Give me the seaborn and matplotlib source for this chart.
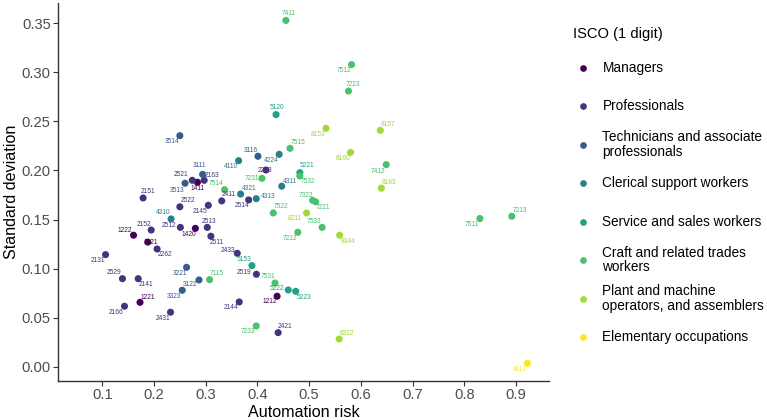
import matplotlib
matplotlib.use("Agg")
import matplotlib.pyplot as plt
import numpy as np
import pandas as pd
import seaborn as sns
from matplotlib.lines import Line2D

# ---- data -------------------------------------------------------------
codes = ["1411", "1420", "1222", "1321", "1221", "1212",
         "2521", "2163", "2151", "2522", "2145", "2512", "2513", "2152", "2511",
         "2262", "2131", "2529", "2141", "2166", "2431", "2263", "2411", "2514",
         "2433", "2519", "2144", "2421",
         "3514", "3111", "3513", "3116", "3221", "3122", "3323",
         "4310", "4110", "4224", "4311", "4321", "4313",
         "5120", "5221", "5153", "5222", "5223",
         "7411", "7512", "7223", "7515", "7231", "7532", "7514", "7322", "7221",
         "7522", "7533", "7212", "7531", "7115", "7233", "7412", "7511", "7213",
         "8153", "8157", "8160", "8183", "8211", "8344", "8322",
         "9112"]
risk = [0.284, 0.280, 0.1605, 0.188, 0.173, 0.438,
        0.274, 0.297, 0.179, 0.250, 0.305, 0.251, 0.303, 0.1946, 0.310,
        0.206, 0.1064, 0.139, 0.1695, 0.143, 0.232, 0.4165, 0.331, 0.383,
        0.361, 0.398, 0.3648, 0.440,
        0.250, 0.294, 0.260, 0.401, 0.263, 0.287, 0.2546,
        0.233, 0.3636, 0.442, 0.447, 0.3675, 0.3977,
        0.436, 0.482, 0.3894, 0.4596, 0.474,
        0.455, 0.582, 0.576, 0.463, 0.4087, 0.482, 0.3365, 0.5067, 0.5125,
        0.4306, 0.525, 0.478, 0.434, 0.3075, 0.3977, 0.649, 0.830, 0.8917,
        0.5325, 0.6375, 0.580, 0.6395, 0.495, 0.559, 0.558,
        0.922]
sd = [0.188, 0.141, 0.134, 0.127, 0.0656, 0.0718,
      0.190, 0.190, 0.172, 0.163, 0.1645, 0.142, 0.142, 0.1393, 0.133,
      0.120, 0.1142, 0.0897, 0.0897, 0.0616, 0.0555, 0.2005, 0.169, 0.170,
      0.1156, 0.0942, 0.066, 0.0347,
      0.2355, 0.196, 0.187, 0.2145, 0.1013, 0.0884, 0.0779,
      0.1506, 0.210, 0.2165, 0.184, 0.176, 0.1713,
      0.257, 0.1978, 0.103, 0.0782, 0.0768,
      0.353, 0.308, 0.281, 0.2226, 0.192, 0.1944, 0.1804, 0.1696, 0.168,
      0.1567, 0.142, 0.137, 0.0853, 0.0887, 0.0415, 0.206, 0.151, 0.1533,
      0.243, 0.241, 0.2185, 0.182, 0.1567, 0.134, 0.0282,
      0.0035]

groups = ["Managers", "Professionals", "Technicians and associate\nprofessionals",
          "Clerical support workers", "Service and sales workers",
          "Craft and related trades\nworkers", "Plant and machine\noperators, and assemblers",
          "Elementary occupations"]
group_digit = ["1", "2", "3", "4", "5", "7", "8", "9"]
colors = ["#440154", "#46337E", "#365C8D", "#277F8E", "#1FA187", "#4AC16D", "#9FDA3A", "#FDE725"]

# label placement (pixel offsets of each label from its point)
label_offsets = {
    "1411": (0, -6), "1420": (-7, -6), "1222": (-9, 5), "1321": (3, 0), "1221": (8, 5), "1212": (-7, -5),
    "2521": (-11, 6), "2163": (8, 5), "2151": (5, 6), "2522": (8, 6), "2145": (-8, -6), "2512": (-11, 2),
    "2513": (2, 6), "2152": (-7, 6), "2511": (6, -6), "2262": (8, -6), "2131": (-8, -6), "2529": (-8, 6),
    "2141": (8, -6), "2166": (-8, -6), "2431": (-8, -6), "2263": (-1, 0), "2411": (7, 6), "2514": (-7, -6),
    "2433": (-9, 3), "2519": (-12, 2), "2144": (-8, -6), "2421": (7, 6),
    "3514": (-8, -6), "3111": (-3, 9), "3513": (-8, -7), "3116": (-7, 6), "3221": (-7, -6), "3122": (-9, -5),
    "3323": (-8, -6),
    "4310": (-8, 6), "4110": (-8, -6), "4224": (-8, -6), "4311": (8, 5), "4321": (9, 6), "4313": (12, 2),
    "5120": (1, 7), "5221": (7, 7), "5153": (-8, 6), "5222": (-11, 1), "5223": (8, -6),
    "7411": (3, 7), "7512": (-8, -6), "7223": (4, 7), "7515": (8, 6), "7231": (-10, 0), "7532": (8, -6),
    "7514": (-8, 6), "7322": (-7, 5), "7221": (7, -6), "7522": (8, 6), "7533": (-8, 6), "7212": (-8, -6),
    "7531": (-7, 6), "7115": (7, 6), "7233": (-8, -6), "7412": (-8, -7), "7511": (-8, -6), "7213": (8, 6),
    "8153": (-8, -6), "8157": (8, 6), "8160": (-7, -6), "8183": (8, 6), "8211": (-12, -6), "8344": (8, -6),
    "8322": (8, 6),
    "9112": (-8, -6),
}

digit_to_group = dict(zip(group_digit, groups))
df = pd.DataFrame({"code": codes, "risk": risk, "sd": sd})
df["group"] = [digit_to_group[c[0]] for c in df["code"]]
palette = dict(zip(groups, colors))

# ---- figure -----------------------------------------------------------
sns.set_theme(style="ticks")
plt.rcParams["font.family"] = ["Liberation Sans", "DejaVu Sans"]

fig = plt.figure(figsize=(7.67, 4.20), dpi=100)
ax = fig.add_axes([0.076, 0.0936, 0.640, 0.8984])

sns.scatterplot(data=df, x="risk", y="sd", hue="group", hue_order=groups,
                palette=palette, s=26, linewidth=0, edgecolor="none",
                legend=False, ax=ax, zorder=3)

for code, x, y, g in zip(df["code"], df["risk"], df["sd"], df["group"]):
    dx, dy = label_offsets.get(code, (0, 6))
    ax.annotate(code, (x, y), xytext=(dx, dy), textcoords="offset pixels",
                ha="center", va="center", fontsize=4.8, color=palette[g], zorder=4)

ax.set_xlim(0.015, 0.964)
ax.set_ylim(-0.0143, 0.3704)
ax.set_xticks(np.arange(0.1, 0.95, 0.1))
ax.set_xticklabels([f"{v:.1f}" for v in np.arange(0.1, 0.95, 0.1)])
ax.set_yticks(np.arange(0, 0.36, 0.05))
ax.set_yticklabels([f"{v:.2f}" for v in np.arange(0, 0.36, 0.05)])
ax.set_xlabel("Automation risk", fontsize=11.6, color="black", labelpad=2)
ax.set_ylabel("Standard deviation", fontsize=11.6, color="black", labelpad=2)
ax.tick_params(axis="both", labelsize=10.6, labelcolor="#4D4D4D", color="#333333",
               length=3.5, width=0.8, pad=2)
for s in ["top", "right"]:
    ax.spines[s].set_visible(False)
for s in ["left", "bottom"]:
    ax.spines[s].set_color("#333333")
    ax.spines[s].set_linewidth(1.0)

# ---- legend (drawn in figure coordinates) -----------------------------
W, H = 767.0, 420.0
fig.text(573 / W, 1 - 34 / H, "ISCO (1 digit)", fontsize=10.6, color="black",
         ha="left", va="center")
y0, step = 67.7, 38.5
for i, (g, c) in enumerate(zip(groups, colors)):
    yp = y0 + i * step
    fig.add_artist(Line2D([583.3 / W], [1 - yp / H], marker="o", markersize=3.8,
                          color=c, linestyle="none", transform=fig.transFigure))
    fig.text(602.5 / W, 1 - yp / H, g, fontsize=9.8, color="black", ha="left",
             va="center", linespacing=1.05)

fig.savefig("out.png", dpi=100)
